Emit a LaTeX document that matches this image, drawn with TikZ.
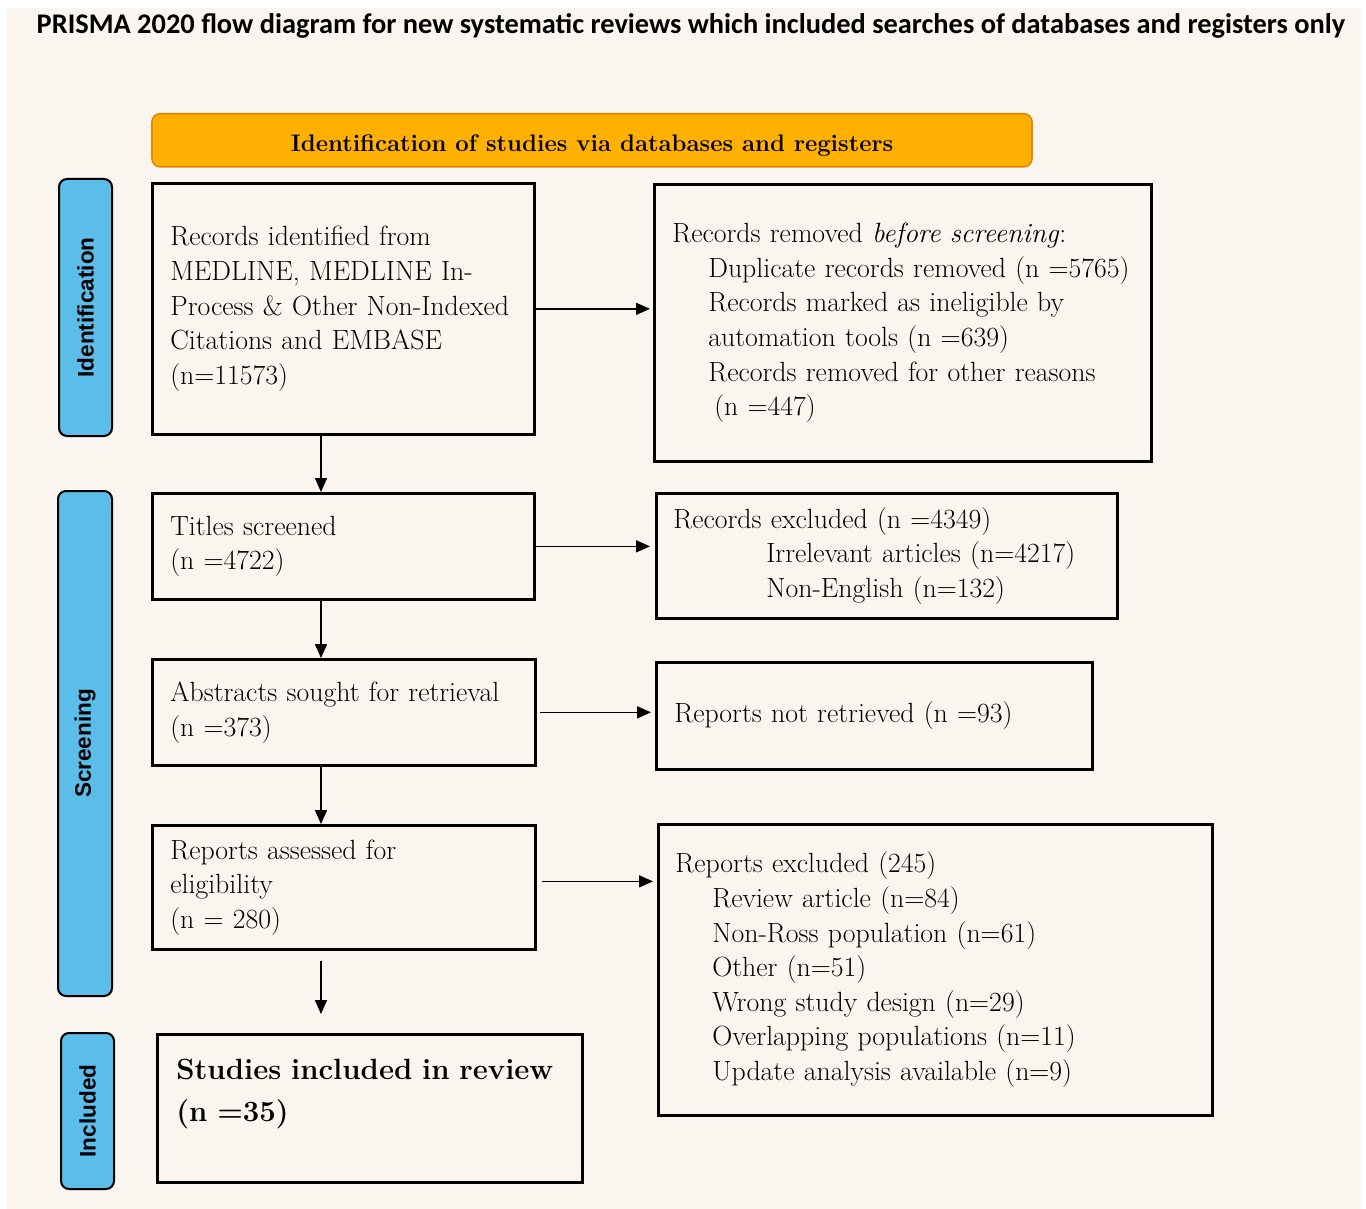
\documentclass[tikz,border=0pt]{standalone}
\usepackage{fontspec}
\usepackage{tikz}
\usetikzlibrary{arrows.meta}
\newfontfamily\titlefont{Carlito}
\newfontfamily\labelfont{Liberation Sans}
\definecolor{paper}{HTML}{FBF5EF}
\definecolor{stage}{HTML}{5BBDEA}
\definecolor{banner}{HTML}{FFB000}
\definecolor{bannerline}{HTML}{E4860C}

\begin{document}
\begin{tikzpicture}[x=1pt,y=-1pt,
    box/.style={draw,line width=2.7pt,anchor=north west,inner ysep=0pt,align=left,
      font=\fontsize{27.8}{34.6}\selectfont},
    stagebox/.style={draw,line width=2pt,fill=stage,rounded corners=8pt,rotate=90,
      inner sep=0pt,font=\labelfont\bfseries\fontsize{22.5}{27}\selectfont},
    arr/.style={-{Triangle[length=14pt,width=12pt]},line width=1.5pt}]
  % page
  \fill[white](0,0)rectangle(1366,1209);
  \fill[paper](7,8)rectangle(1361,1209);
  \node[anchor=base,font=\titlefont\bfseries\fontsize{28.4}{32}\selectfont](title)at(691,34)
    {PRISMA 2020 flow diagram for new systematic reviews which included searches of databases and registers only};
  \node[draw=bannerline,line width=1.6pt,fill=banner,rounded corners=8pt,anchor=north,
    minimum width=880pt,inner ysep=0pt,text height=38pt,text depth=15pt,
    font=\bfseries\fontsize{23.9}{28}\selectfont](head)at(592,113)
    {Identification of studies via databases and registers};
  % stages
  \node[stagebox,minimum width=257pt,minimum height=53pt](idn)at(85.5,307.5){Identification};
  \node[stagebox,minimum width=505pt,minimum height=54pt](scr)at(85,743.5){Screening};
  \node[stagebox,minimum width=156pt,minimum height=53pt](inc)at(87.5,1111){Included};
  % main column
  \node[box,inner xsep=18pt,text width=346pt,minimum height=251pt](b1)at(151,182)
    {Records identified from\\MEDLINE, MEDLINE In-\\Process \& Other Non-Indexed\\Citations and EMBASE\\(n=11573)};
  \node[box,inner xsep=18pt,text width=346pt,minimum height=106pt](b2)at(151,492)
    {Titles screened\\(n =4722)};
  \node[box,inner xsep=18pt,text width=347pt,minimum height=106pt](b3)at(151,658)
    {Abstracts sought for retrieval\\(n =373)};
  \node[box,inner xsep=18pt,text width=347pt,minimum height=124pt](b4)at(151,824)
    {Reports assessed for\\eligibility\\(n = 280)};
  \node[box,inner xsep=19pt,text width=387pt,text height=45pt,text depth=103pt,
    font=\bfseries\fontsize{29.3}{42}\selectfont](b5)at(156,1033)
    {Studies included in review\\(n =35)};
  % side column
  \node[box,inner xsep=18pt,text width=461pt,minimum height=277pt](r1)at(653,183)
    {Records removed \emph{before screening}:\\
     \hspace*{36pt}Duplicate records removed (n =5765)\\
     \hspace*{36pt}Records marked as ineligible by\\
     \hspace*{36pt}automation tools (n =639)\\
     \hspace*{36pt}Records removed for other reasons\\
     \hspace*{42pt}(n =447)};
  \node[box,inner xsep=17pt,text width=427pt,minimum height=125pt](r2)at(655,492)
    {Records excluded (n =4349)\\
     \hspace*{93pt}Irrelevant articles (n=4217)\\
     \hspace*{93pt}Non-English (n=132)};
  \node[box,inner xsep=18pt,text width=400pt,minimum height=107pt](r3)at(655,661)
    {Reports not retrieved (n =93)};
  \node[box,inner xsep=17pt,text width=520pt,minimum height=291pt](r4)at(657,823)
    {Reports excluded (245)\\
     \hspace*{37pt}Review article (n=84)\\
     \hspace*{37pt}Non-Ross population (n=61)\\
     \hspace*{37pt}Other (n=51)\\
     \hspace*{37pt}Wrong study design (n=29)\\
     \hspace*{37pt}Overlapping populations (n=11)\\
     \hspace*{37pt}Update analysis available (n=9)};
  % arrows
  \coordinate(spine)at(321,0);
  \draw[arr](b1.south -| spine)--(b2.north -| spine);
  \draw[arr](b2.south -| spine)--(b3.north -| spine);
  \draw[arr](b3.south -| spine)--(b4.north -| spine);
  \draw[arr,shorten <=10pt,shorten >=19pt](b4.south -| spine)--(b5.north -| spine);
  \draw[arr,shorten >=3pt](b1.east)--(b1.east -| r1.west);
  \draw[arr,shorten >=5pt](b2.east)--(b2.east -| r2.west);
  \draw[arr,shorten <=3pt,shorten >=4pt](b3.east)--(b3.east -| r3.west);
  \draw[arr,shorten <=5pt,shorten >=4pt]([yshift=6pt]b4.east)--([yshift=6pt]b4.east -| r4.west);
\end{tikzpicture}
\end{document}
